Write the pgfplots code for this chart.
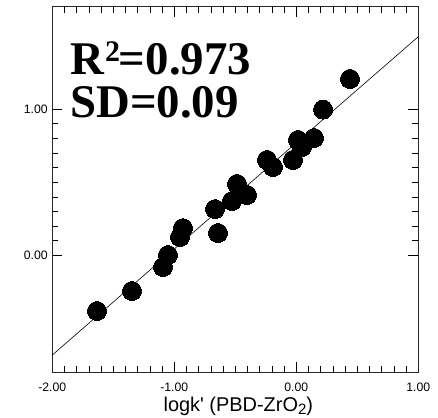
\documentclass[border=0pt]{standalone}
\usepackage{pgfplots}
\pgfplotsset{compat=1.18}
\usepackage{fontspec}
\setmainfont{Liberation Sans}
\newfontfamily\timesfont{Liberation Serif}
\begin{document}
\begin{tikzpicture}
\path[use as bounding box] (-52.3bp,-45.7bp) rectangle (385.7bp,372.3bp);
\begin{axis}[
  at={(0,0)}, anchor=south west,
  scale only axis,
  width=366bp, height=365.6bp,
  xmin=-2, xmax=1, ymin=-0.8, ymax=1.7,
  xtick={-2,-1,0,1}, ytick={0,1},
  xticklabels={-2.00,-1.00,0.00,1.00},
  yticklabels={0.00,1.00},
  minor x tick num=9, minor y tick num=9,
  tick align=inside,
  major tick length=10bp, minor tick length=6bp,
  tick style={black, line width=0.6pt},
  axis line style={line width=0.8pt, black!85},
  /pgf/number format/assume math mode=true,
  ticklabel style={font=\fontsize{12.3}{14}\selectfont},
  xticklabel style={yshift=-7bp},
  yticklabel style={xshift=-1bp},
  xlabel={logk\textquotesingle\ (PBD-ZrO\raisebox{-0.35ex}{\fontsize{15}{15}\selectfont 2})},
  xlabel style={at={(axis description cs:0.5,0)}, anchor=base, yshift=-38.7bp, xshift=3bp, font=\fontsize{20}{22}\selectfont},
  clip=false,
]
\addplot[black, line width=0.6pt, no marks] coordinates {(-2,-0.682) (1,1.495)};
\addplot[only marks, mark=*, mark size=9.5bp, mark options={fill=black, draw=black, line width=0pt}] coordinates {
(0.440,1.206)
(0.219,0.997)
(0.145,0.802)
(0.014,0.789)
(0.047,0.741)
(-0.027,0.652)
(-0.240,0.652)
(-0.191,0.604)
(-0.486,0.488)
(-0.404,0.413)
(-0.527,0.371)
(-0.666,0.316)
(-0.642,0.152)
(-0.929,0.186)
(-0.953,0.125)
(-1.052,0.002)
(-1.093,-0.080)
(-1.347,-0.244)
(-1.634,-0.381)
};
\node[anchor=base west, inner sep=0pt, font=\timesfont\bfseries\fontsize{47}{47}\selectfont] at (axis cs:-1.855,1.233) {R\kern1bp\raisebox{13bp}{\fontsize{30}{30}\selectfont 2}\kern-1bp=0.973};
\node[anchor=base west, inner sep=0pt, font=\timesfont\bfseries\fontsize{47}{47}\selectfont] at (axis cs:-1.855,0.944) {SD=0.09};
\end{axis}
\end{tikzpicture}
\end{document}
